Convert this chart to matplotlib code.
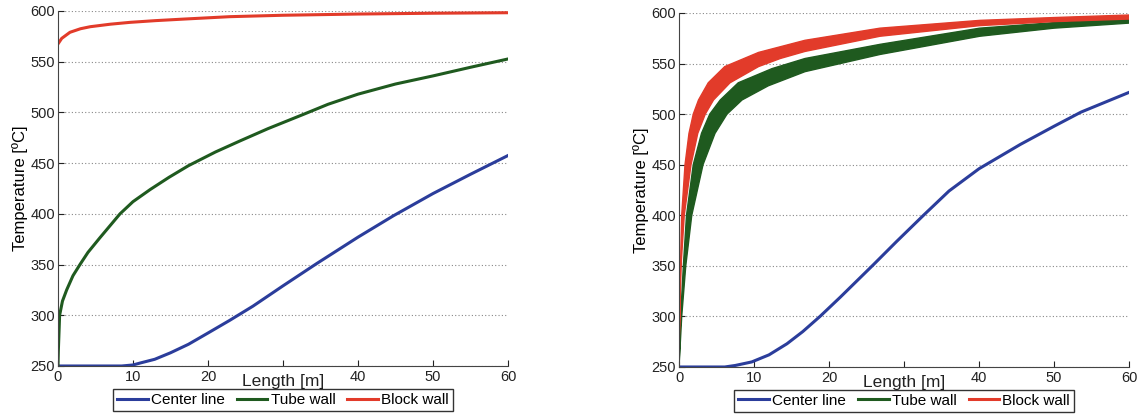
import matplotlib
matplotlib.use("Agg")
import matplotlib.pyplot as plt

plt.rcParams['font.family'] = ['Liberation Sans', 'DejaVu Sans']

# ---- Left chart data ----
left_center_x = [0, 5, 8.5, 10, 11, 12.9, 15, 17.4, 20, 22.9, 26, 30, 34.5, 40, 44.7, 50, 55, 60]
left_center_T = [250, 250, 250, 251, 253, 256.6, 263, 271.4, 282.5, 295, 309, 329, 351, 377, 398, 420, 439, 457.5]

left_tube_x = [0, 0.05, 0.22, 0.6, 1.16, 2, 2.93, 4, 5.6, 8.27, 10, 12.3, 14.8, 17.4, 21, 24.3,
               28, 32.7, 36, 40, 45, 50, 55, 60]
left_tube_T = [250, 265, 300, 314, 325, 339, 350, 362, 376.5, 400, 412, 424, 436, 447.5, 461, 472,
               484, 498, 508, 518, 528, 536, 544.5, 552.7]

left_block_x = [0, 0.5, 1.6, 3, 4.3, 7, 9.6, 13, 16.7, 22.9, 30, 40, 50, 60]
left_block_T = [567.5, 573, 579, 582.5, 584.5, 587, 588.8, 590.5, 592, 594.4, 595.8, 597, 597.8, 598.3]

# ---- Right chart data ----
right_center_x = [0, 5, 6.1, 7.5, 9.7, 12, 14.4, 16.5, 18.8, 21.5, 25.9, 29, 32.6, 36, 40,
                  45.5, 50, 53.6, 60]
right_center_T = [250, 250, 250, 251.5, 255, 262, 273, 285, 300, 319, 351, 374, 400, 424, 446,
                  470, 488, 502, 521.5]

# tube wall band (upper and lower edges, read separately)
right_tube_upper_x = [0, 0.22, 0.58, 1.0, 1.9, 3.0, 4.1, 5.5, 7.9, 12.4, 16.8, 26.8, 40.1, 50, 60]
right_tube_upper_T = [250, 300, 350, 400, 450, 481, 500, 514, 531, 545, 555, 569, 585, 590.5, 594.7]
right_tube_lower_x = [0, 0.36, 0.9, 1.7, 3.2, 4.8, 6.4, 8.4, 11.9, 16.8, 26.8, 40.1, 50, 60]
right_tube_lower_T = [250, 300, 350, 400, 450, 481, 500, 514, 528, 542, 559, 577, 585, 590]

# block wall band
right_block_upper_x = [0, 0.1, 0.2, 0.36, 0.8, 1.33, 1.9, 2.6, 3.9, 6.1, 10.6, 16.8, 26.8, 40.1, 50, 60]
right_block_upper_T = [270, 300, 350, 400, 450, 481, 500, 514, 531, 547, 561, 573, 585, 592.7, 595.5, 598]
right_block_lower_x = [0, 0.27, 0.7, 1.6, 2.5, 3.5, 4.6, 6.8, 10.6, 13.5, 16.8, 26.8, 40.1, 50, 60]
right_block_lower_T = [265, 350, 400, 450, 481, 500, 514, 531, 547, 555, 562, 577, 587.5, 591.5, 594]

xticks = [0, 10, 20, 30, 40, 50, 60]
xticklabels = ['0', '10', '20', '', '40', '50', '60']
yticks = [250, 300, 350, 400, 450, 500, 550, 600]

BLUE = '#2b3d9b'
GREEN = '#1f5a1f'
RED = '#e23b2a'

fig = plt.figure(figsize=(11.41, 4.15), dpi=100)
ax1 = fig.add_axes([0.0508, 0.1181, 0.3944, 0.8554])
ax2 = fig.add_axes([0.5951, 0.1157, 0.3944, 0.8530])


def style(ax):
    ax.set_xlim(0, 60)
    ax.set_ylim(250, 600)
    ax.set_xticks(xticks)
    ax.set_xticklabels(xticklabels)
    ax.set_yticks(yticks)
    ax.tick_params(direction='in', length=4, labelsize=10.5, colors='#222222')
    ax.tick_params(axis='x', pad=3)
    ax.tick_params(axis='y', pad=2)
    ax.spines['top'].set_visible(False)
    ax.spines['right'].set_visible(False)
    ax.spines['left'].set_color('#444444')
    ax.spines['bottom'].set_color('#444444')
    ax.yaxis.grid(True, linestyle=(0, (1, 2)), color='#888888', linewidth=0.8)
    ax.set_axisbelow(True)
    ax.set_ylabel('Temperature [ºC]', fontsize=12, labelpad=2)
    ax.text(30, -0.022, 'Length [m]', transform=ax.get_xaxis_transform(),
            ha='center', va='top', fontsize=12.5, color='#222222')


def add_legend(ax, handles):
    ax.legend(handles=handles, loc='upper center', bbox_to_anchor=(0.5, -0.065),
              ncol=3, fontsize=11, frameon=True, fancybox=False, edgecolor='black',
              handlelength=2.0, handletextpad=0.2, columnspacing=0.8, borderpad=0.25,
              borderaxespad=0)


style(ax1)
l1, = ax1.plot(left_center_x, left_center_T, color=BLUE, lw=2.2, label='Center line')
l2, = ax1.plot(left_tube_x, left_tube_T, color=GREEN, lw=2.2, label='Tube wall')
l3, = ax1.plot(left_block_x, left_block_T, color=RED, lw=2.2, label='Block wall')
add_legend(ax1, [l1, l2, l3])

style(ax2)
r1, = ax2.plot(right_center_x, right_center_T, color=BLUE, lw=2.2, label='Center line')
ax2.fill(right_tube_upper_x + right_tube_lower_x[::-1],
         right_tube_upper_T + right_tube_lower_T[::-1],
         facecolor=GREEN, edgecolor=GREEN, lw=1.0, joinstyle='round')
ax2.fill(right_block_upper_x + right_block_lower_x[::-1],
         right_block_upper_T + right_block_lower_T[::-1],
         facecolor=RED, edgecolor=RED, lw=1.0, joinstyle='round')
r2, = ax2.plot([], [], color=GREEN, lw=2.2, label='Tube wall')
r3, = ax2.plot([], [], color=RED, lw=2.2, label='Block wall')
add_legend(ax2, [r1, r2, r3])

fig.savefig('out.png', dpi=100)
